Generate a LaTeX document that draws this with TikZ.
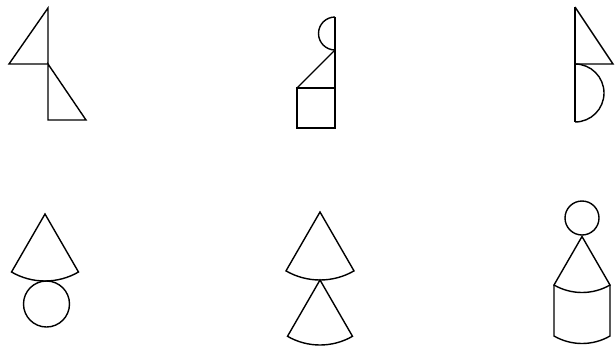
\documentclass[tikz,border=0pt]{standalone}
\begin{document}
\begin{tikzpicture}[x=1pt,y=-1pt,
  outl/.style={draw=black,line width=1.4pt,line join=miter}]
\useasboundingbox (0,0) rectangle (616,346);
% figure 1
\draw[outl] (48,8) -- (9,64) -- (48,64) -- cycle;
\draw[outl] (48,64) -- (48,120) -- (86,120) -- cycle;
% figure 2
\draw[outl] (335,17) -- (335,128);
\draw[outl] (335,17) arc[start angle=-90,end angle=-270,radius=16.5];
\draw[outl] (335,50) -- (297,88);
\draw[outl] (297,88) rectangle (335,128);
% figure 3
\draw[outl] (575,7) -- (575,122);
\draw[outl] (575,7) -- (613,64) -- (575,64);
\draw[outl] (575,64) arc[start angle=-90,end angle=90,radius=29];
% figure 4
\draw[outl] (45,214) -- +(60:67) arc[start angle=60,end angle=120,radius=67] -- cycle;
\draw[outl] (46.5,304) circle[radius=23];
% figure 5
\draw[outl] (320,212) -- +(60:68) arc[start angle=60,end angle=120,radius=68] -- cycle;
\draw[outl] (320,280) -- +(60:65) arc[start angle=60,end angle=120,radius=65] -- cycle;
% figure 6
\draw[outl] (582,218) circle[radius=17];
\draw[outl] (582,236.5) -- +(60:56) arc[start angle=60,end angle=120,radius=56] -- cycle;
\draw[outl] (582,236.5) ++(60:56) -- ++(0,51) arc[start angle=60,end angle=120,radius=56] -- ++(0,-51);
\end{tikzpicture}
\end{document}
